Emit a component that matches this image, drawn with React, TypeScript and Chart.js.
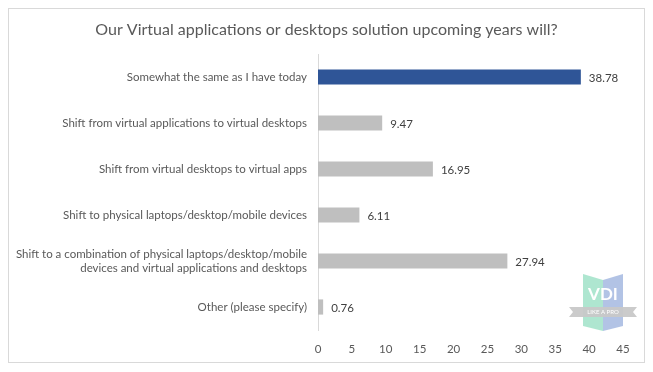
import React, { useEffect, useRef } from "react";
import { Chart, registerables } from "chart.js";

Chart.register(...registerables);

const TITLE = "Our Virtual applications or desktops solution upcoming years will?";
const categories: (string | string[])[] = [
  "Somewhat the same as I have today",
  "Shift from virtual applications to virtual desktops",
  "Shift from virtual desktops to virtual apps",
  "Shift to physical laptops/desktop/mobile devices",
  ["Shift to a combination of physical laptops/desktop/mobile", "devices and virtual applications and desktops"],
  "Other (please specify)",
];
const values = [38.78, 9.47, 16.95, 6.11, 27.94, 0.76];
const barColors = ["#2F5597", "#BFBFBF", "#BFBFBF", "#BFBFBF", "#BFBFBF", "#BFBFBF"];
const xMin = 0;
const xMax = 45;
const xStep = 5;

const FONT = "Lato, 'Open Sans', sans-serif";

const titlePlugin = {
  id: "customTitle",
  afterDraw(chart: any) {
    const ctx = chart.ctx;
    ctx.save();
    ctx.fillStyle = "#595959";
    ctx.font = `16px ${FONT}`;
    ctx.textAlign = "center";
    ctx.textBaseline = "middle";
    ctx.fillText(TITLE, chart.width / 2, 21);
    ctx.restore();
  },
};

const valueLabelPlugin = {
  id: "valueLabels",
  afterDatasetsDraw(chart: any) {
    const ctx = chart.ctx;
    const meta = chart.getDatasetMeta(0);
    ctx.save();
    ctx.fillStyle = "#404040";
    ctx.font = `11.5px ${FONT}`;
    ctx.textAlign = "left";
    ctx.textBaseline = "middle";
    meta.data.forEach((bar: any, i: number) => {
      ctx.fillText(values[i].toFixed(2), bar.x + 8, bar.y + 1);
    });
    ctx.restore();
  },
};

const logoPlugin = {
  id: "logo",
  afterDraw(chart: any) {
    const { ctx, chartArea } = chart;
    const cx = chartArea.right - 20;
    const top = chartArea.bottom - 56;
    const halfW = 20;
    ctx.save();
    ctx.fillStyle = "rgba(160, 226, 200, 0.85)";
    ctx.beginPath();
    ctx.moveTo(cx - halfW, top);
    ctx.lineTo(cx, top + 6);
    ctx.lineTo(cx, top + 57);
    ctx.lineTo(cx - halfW, top + 52);
    ctx.closePath();
    ctx.fill();
    ctx.fillStyle = "rgba(170, 188, 226, 0.9)";
    ctx.beginPath();
    ctx.moveTo(cx + halfW, top);
    ctx.lineTo(cx, top + 6);
    ctx.lineTo(cx, top + 57);
    ctx.lineTo(cx + halfW, top + 52);
    ctx.closePath();
    ctx.fill();
    const by = top + 33;
    ctx.fillStyle = "rgba(200, 200, 200, 0.95)";
    ctx.beginPath();
    ctx.moveTo(cx - 34, by);
    ctx.lineTo(cx + 34, by);
    ctx.lineTo(cx + 30, by + 5);
    ctx.lineTo(cx + 34, by + 10);
    ctx.lineTo(cx - 34, by + 10);
    ctx.lineTo(cx - 30, by + 5);
    ctx.closePath();
    ctx.fill();
    ctx.fillStyle = "#ffffff";
    ctx.textAlign = "center";
    ctx.textBaseline = "middle";
    ctx.font = `bold 17px ${FONT}`;
    ctx.fillText("VDI", cx, top + 21);
    ctx.font = `6px ${FONT}`;
    ctx.fillText("LIKE A PRO", cx, by + 5.5);
    ctx.restore();
  },
};

export default function App() {
  const canvasRef = useRef<HTMLCanvasElement | null>(null);

  useEffect(() => {
    if (!canvasRef.current) return;
    const chart = new Chart(canvasRef.current, {
      type: "bar",
      data: {
        labels: categories,
        datasets: [
          {
            data: values,
            backgroundColor: barColors,
            borderWidth: 0,
            barPercentage: 0.66,
            categoryPercentage: 0.5,
          },
        ],
      },
      options: {
        indexAxis: "y",
        animation: false,
        responsive: true,
        maintainAspectRatio: false,
        layout: { padding: { top: 45, right: 21, bottom: 0, left: 0 } },
        plugins: {
          legend: { display: false },
          title: { display: false },
          tooltip: { enabled: false },
        },
        scales: {
          x: {
            min: xMin,
            max: xMax,
            ticks: {
              stepSize: xStep,
              color: "#595959",
              font: { family: FONT, size: 11.5 },
              padding: 12,
            },
            grid: { display: false, drawTicks: false },
            border: { display: false },
            afterFit(scale: any) {
              scale.height = 32;
            },
          },
          y: {
            ticks: {
              color: "#595959",
              font: { family: FONT, size: 11.5, lineHeight: 1.25 },
              padding: 11,
            },
            grid: { display: false, drawTicks: false },
            border: { display: true, color: "#D9D9D9", width: 1 },
            afterFit(scale: any) {
              scale.width = 309;
            },
          },
        },
      },
      plugins: [titlePlugin, valueLabelPlugin, logoPlugin],
    });
    return () => chart.destroy();
  }, []);

  return (
    <div
      style={{
        width: 637,
        height: 355,
        border: "1px solid #D9D9D9",
        boxSizing: "border-box",
        background: "#ffffff",
        position: "relative",
      }}
    >
      <canvas ref={canvasRef} />
    </div>
  );
}
